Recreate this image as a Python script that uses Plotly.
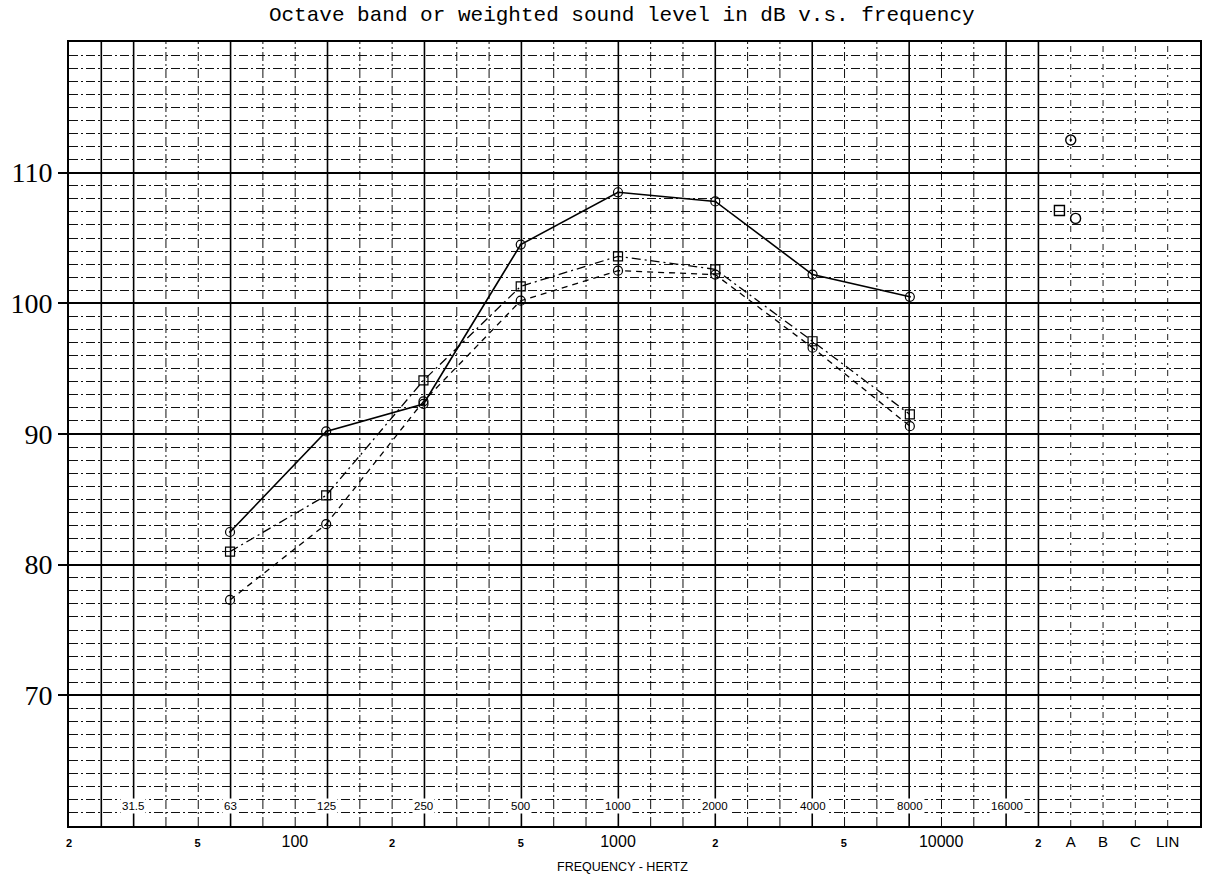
import math
import plotly.graph_objects as go

# Octave band centre frequencies (Hz) and measured levels (dB) for three runs
BANDS_HZ = [63, 125, 250, 500, 1000, 2000, 4000, 8000]
LEVEL_RUN_1 = [82.5, 90.2, 92.3, 104.5, 108.5, 107.8, 102.2, 100.5]
LEVEL_RUN_2 = [81.0, 85.3, 94.1, 101.3, 103.6, 102.6, 97.1, 91.5]
LEVEL_RUN_3 = [77.3, 83.1, 92.5, 100.2, 102.5, 102.2, 96.6, 90.6]

# A-weighted overall levels (dB) for the same three runs
A_WEIGHTED = [112.5, 107.1, 106.5]

# Chart labels
OCTAVE_LABELS = ["31.5", "63", "125", "250", "500", "1000", "2000", "4000", "8000", "16000"]
OCTAVE_LABEL_HZ = [31.5, 63, 125, 250, 500, 1000, 2000, 4000, 8000, 16000]
FREQ_TICKS_HZ = [20, 50, 100, 200, 500, 1000, 2000, 5000, 10000, 20000]
FREQ_TICK_TEXT = ["2", "5", "100", "2", "5", "1000", "2", "5", "10000", "2"]
WEIGHT_LABELS = ["A", "B", "C", "LIN"]
DB_TICKS = [70, 80, 90, 100, 110]

# ---- axis geometry (x is log10 of frequency, one grid cell = 0.1 decade) ----
X0 = math.log10(20)
CELL = 0.1
N_CELLS = 35
X_END_FREQ = math.log10(20000)
weight_x = [X_END_FREQ + CELL * (i + 1) for i in range(len(WEIGHT_LABELS))]
A_X = weight_x[0]

small = '<span style="font-size:11px"><b>{}</b></span>'
tick_vals = [math.log10(f) for f in FREQ_TICKS_HZ] + weight_x
tick_text = [small.format(t) if len(t) == 1 else t for t in FREQ_TICK_TEXT] + \
    ['<span style="font-size:15px">{}</span>'.format(w) for w in WEIGHT_LABELS]

fig = go.Figure()

series = [
    (LEVEL_RUN_1, dict(width=1.6, dash="solid"), "circle-open-dot", 0.0),
    (LEVEL_RUN_2, dict(width=1.3, dash="9px,4px,2px,4px"), "square-open", -0.035),
    (LEVEL_RUN_3, dict(width=1.3, dash="6px,5px"), "circle-open", 0.015),
]
bx = [math.log10(f) for f in BANDS_HZ]
for (levels, line, sym, a_off), a_val in zip(series, A_WEIGHTED):
    fig.add_trace(go.Scatter(
        x=bx, y=levels, mode="lines+markers",
        line=dict(color="black", **line),
        marker=dict(symbol=sym, size=9, color="black", line=dict(width=1.2, color="black")),
        showlegend=False, hoverinfo="skip",
    ))
    fig.add_trace(go.Scatter(
        x=[A_X + a_off], y=[a_val], mode="markers",
        marker=dict(symbol=sym, size=10, color="black", line=dict(width=1.4, color="black")),
        showlegend=False, hoverinfo="skip",
    ))

# vertical graph-paper rulings
SOLID_K = {1, 2, 5, 8, 11, 14, 17, 20, 23, 26, 29, 30}
shapes = []
for k in range(1, N_CELLS):
    xv = X0 + CELL * k
    if k in SOLID_K:
        ln = dict(color="black", width=1.6)
    elif k > 30:
        ln = dict(color="#222", width=1, dash="6px,5px,2px,5px")
    else:
        ln = dict(color="#111", width=1, dash="9px,3px,2px,3px")
    shapes.append(dict(type="line", xref="x", yref="y", x0=xv, x1=xv, y0=60, y1=120,
                       line=ln, layer="below"))

annotations = []
for lab, f in zip(OCTAVE_LABELS, OCTAVE_LABEL_HZ):
    annotations.append(dict(
        x=math.log10(f), y=61.5, xref="x", yref="y", text=lab, showarrow=False,
        font=dict(family="Liberation Sans", size=11.5, color="black"),
        bgcolor="white", borderpad=1,
    ))
annotations.append(dict(
    x=3.015, y=-0.052, xref="x", yref="paper", text="FREQUENCY - HERTZ",
    showarrow=False, font=dict(family="Liberation Sans", size=12.5, color="black"),
    yanchor="middle",
))

fig.update_layout(
    width=1212, height=892,
    margin=dict(l=65, r=10, t=42, b=66),
    paper_bgcolor="white", plot_bgcolor="white",
    title=dict(
        text="Octave band or weighted sound level in dB v.s. frequency",
        x=0.513, xanchor="center", y=1 - 14 / 892, yanchor="middle", yref="container",
        font=dict(family="Courier New, Liberation Mono, monospace", size=21, color="black"),
    ),
    shapes=shapes,
    annotations=annotations,
    xaxis=dict(
        range=[X0, X0 + CELL * N_CELLS],
        tickmode="array", tickvals=tick_vals, ticktext=tick_text,
        tickfont=dict(family="Liberation Sans", size=16, color="black"),
        ticks="", showgrid=False, zeroline=False,
        showline=True, mirror=True, linecolor="black", linewidth=2,
        ticklabelstandoff=0,
    ),
    yaxis=dict(
        range=[60, 120],
        tickmode="array", tickvals=DB_TICKS,
        ticktext=[str(v) for v in DB_TICKS],
        tickfont=dict(family="Liberation Sans Narrow, Liberation Serif, serif", size=28, color="black"),
        ticks="outside", ticklen=9, tickwidth=1.5, tickcolor="black",
        showgrid=True, gridcolor="black", gridwidth=1.8,
        minor=dict(tickmode="linear", tick0=60, dtick=1, showgrid=True,
                   gridcolor="#111", gridwidth=1, griddash="9px,3px,2px,3px", ticks=""),
        zeroline=False,
        showline=True, mirror=True, linecolor="black", linewidth=2,
    ),
)

fig.write_html("out.html")
